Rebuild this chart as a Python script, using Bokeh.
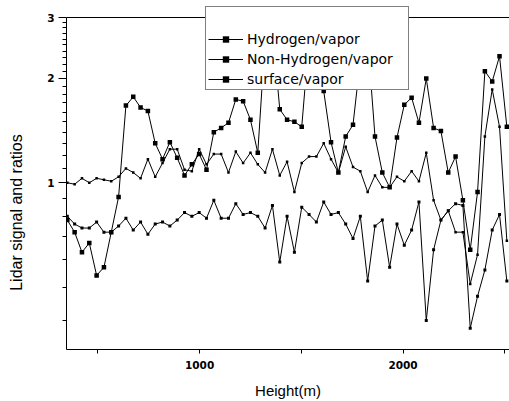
from bokeh.plotting import figure
from bokeh.models import (Range1d, FixedTicker, PrintfTickFormatter, Legend, LegendItem, Span)
from bokeh.embed import file_html
from bokeh.resources import INLINE

height_m = [350, 386, 422, 458, 494, 530, 566, 602, 638, 674,
            710, 746, 782, 818, 854, 890, 926, 962, 998, 1034,
            1070, 1106, 1142, 1178, 1214, 1250, 1286, 1322, 1358, 1394,
            1430, 1466, 1502, 1538, 1574, 1610, 1646, 1682, 1718, 1754,
            1790, 1826, 1862, 1898, 1934, 1970, 2006, 2042, 2078, 2114,
            2150, 2186, 2222, 2258, 2294, 2330, 2366, 2402, 2438, 2474, 2510]

hydrogen = [1.00, 0.99, 1.03, 1.00, 1.03, 1.02, 1.01, 1.04, 1.10, 1.07,
            1.03, 1.17, 1.04, 1.14, 1.25, 1.25, 1.09, 1.08, 1.25, 1.13,
            1.21, 1.21, 1.07, 1.23, 1.14, 1.22, 1.13, 1.07, 1.25, 1.05,
            1.15, 0.94, 1.14, 1.19, 1.19, 1.30, 1.17, 1.07, 1.27, 1.11,
            1.08, 0.94, 1.05, 0.97, 0.97, 1.04, 1.01, 1.08, 1.01, 1.22,
            0.89, 0.78, 0.83, 0.72, 0.72, 0.51, 0.62, 1.36, 1.86, 1.45, 0.68]

non_hydrogen = [0.80, 0.76, 0.74, 0.74, 0.77, 0.72, 0.72, 0.75, 0.79, 0.73,
                0.77, 0.71, 0.76, 0.77, 0.75, 0.78, 0.82, 0.80, 0.82, 0.79,
                0.89, 0.79, 0.79, 0.87, 0.81, 0.82, 0.80, 0.74, 0.86, 0.59,
                0.80, 0.63, 0.85, 0.81, 0.77, 0.88, 0.81, 0.82, 0.76, 0.69,
                0.80, 0.52, 0.75, 0.78, 0.57, 0.76, 0.66, 0.73, 0.88, 0.40,
                0.64, 0.78, 0.83, 0.87, 0.86, 0.38, 0.47, 0.56, 0.73, 0.81, 0.52]

surface = [0.78, 0.72, 0.63, 0.67, 0.54, 0.57, 0.72, 0.91, 1.67, 1.77,
           1.65, 1.61, 1.30, 1.17, 1.31, 1.18, 1.05, 1.13, 1.21, 1.09,
           1.40, 1.44, 1.49, 1.74, 1.72, 1.52, 1.22, 2.60, 2.80, 1.63,
           1.52, 1.50, 1.45, 2.60, 2.60, 1.84, 1.31, 1.07, 1.36, 1.47,
           2.27, 2.60, 1.36, 1.07, 0.97, 1.35, 1.68, 1.76, 1.49, 2.00,
           1.44, 1.41, 1.07, 1.19, 0.89, 0.64, 0.94, 2.10, 1.96, 2.32, 1.45]

series_names = ["Hydrogen/vapor", "Non-Hydrogen/vapor\u00a0\u00a0\u00a0", "surface/vapor"]
y_major = [1, 2, 3]
y_minor = [0.4, 0.5, 0.6, 0.7, 0.8, 0.9, 1.1, 1.2, 1.3, 1.4, 1.5, 1.6, 1.7, 1.8, 1.9,
           2.1, 2.2, 2.3, 2.4, 2.5, 2.6, 2.7, 2.8, 2.9]
x_major = [1000, 2000]
x_minor = [500, 1500, 2500]
y_bottom, y_top, y_frame_top = 0.33, 3.0, 3.271

p = figure(width=509, height=401, x_range=Range1d(346, 2523),
           y_range=Range1d(y_bottom, y_frame_top),
           y_axis_type="log", output_backend="svg", toolbar_location=None,
           min_border_left=66, min_border_right=0, min_border_top=4, min_border_bottom=52)
p.background_fill_color = "white"
p.border_fill_color = "white"
p.outline_line_color = None
p.xgrid.visible = False
p.ygrid.visible = False

p.add_layout(Span(location=y_top, dimension="width", line_color="black", line_width=1))

items = []
for vals, name, size in zip([hydrogen, non_hydrogen, surface], series_names, [2.5, 3, 4.5]):
    ln = p.line(height_m, vals, line_color="black", line_width=1)
    sc = p.scatter(height_m, vals, marker="square", size=size, fill_color="black",
                   line_color=None)
    items.append(LegendItem(label=name, renderers=[ln, sc]))

legend = Legend(items=items, location=(139, 259), title=".",
                title_text_color="white", title_text_font_size="14px", title_standoff=6,
                padding=2, spacing=4, margin=0, label_height=16, glyph_height=16,
                glyph_width=35, label_standoff=4,
                label_text_font="DejaVu Sans", label_text_font_size="14px",
                label_text_color="black",
                border_line_color="black", border_line_width=1,
                background_fill_color="white", background_fill_alpha=1.0)
p.add_layout(legend, "center")

for ax in (p.xaxis[0], p.yaxis[0]):
    ax.axis_line_color = "black"
    ax.major_tick_line_color = "black"
    ax.minor_tick_line_color = "black"
    ax.major_label_text_color = "black"
    ax.axis_label_text_color = "black"
    ax.axis_label_text_font_style = "normal"

xa = p.xaxis[0]
xa.ticker = FixedTicker(ticks=x_major, minor_ticks=x_minor)
xa.major_tick_out = 4
xa.major_tick_in = 0
xa.minor_tick_out = 4
xa.minor_tick_in = 0
xa.major_label_text_font = "DejaVu Sans"
xa.major_label_text_font_style = "bold"
xa.major_label_text_font_size = "10.5px"
xa.major_label_standoff = 7
xa.axis_label = "Height(m)"
xa.axis_label_text_font = "Liberation Sans"
xa.axis_label_text_font_size = "15px"
xa.axis_label_standoff = 10

ya = p.yaxis[0]
ya.bounds = (y_bottom, y_top)
ya.ticker = FixedTicker(ticks=y_major, minor_ticks=y_minor)
ya.formatter = PrintfTickFormatter(format="%d")
ya.major_tick_out = 8
ya.major_tick_in = 0
ya.minor_tick_out = 4
ya.minor_tick_in = 0
ya.minor_tick_line_width = 1
ya.major_label_text_font = "DejaVu Sans"
ya.major_label_text_font_style = "bold"
ya.major_label_text_font_size = "10.5px"
ya.major_label_standoff = 4
ya.major_label_orientation = "horizontal"
# trailing no-break spaces move the visible words lower along the axis, as in the reference
ya.axis_label = "Lidar signal and ratios" + "\u00a0" * 16
ya.axis_label_text_font = "Liberation Sans"
ya.axis_label_text_font_size = "16px"
ya.axis_label_standoff = 19

open("out.html", "w").write(file_html(p, INLINE))
